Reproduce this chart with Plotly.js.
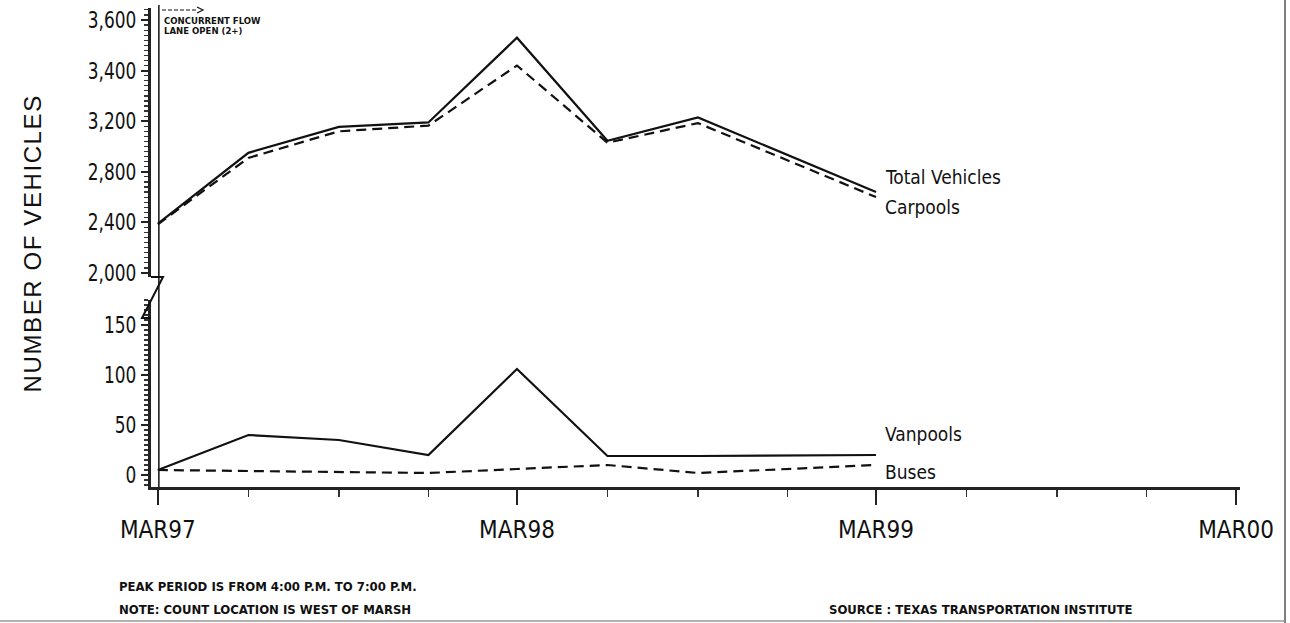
<!DOCTYPE html>
<html>
<head>
<meta charset="utf-8">
<script src="https://cdn.plot.ly/plotly-3.0.1.min.js"></script>
<style>
html,body{margin:0;padding:0;background:#fff;}
#chart{width:1290px;height:623px;}
</style>
</head>
<body>
<div id="chart"></div>
<script>
// ---- data ----
const dates = ['1997-03-01','1997-06-01','1997-09-01','1997-12-01','1998-03-01','1998-06-01','1998-09-01','1999-03-01'];
const totalVehicles = [2390, 2950, 3155, 3190, 3530, 3045, 3215, 2640];
const carpools      = [2385, 2910, 3120, 3165, 3420, 3030, 3185, 2600];
const vanpools      = [5, 40, 35, 20, 106, 19, 19, 20];
const buses         = [5, 4, 3, 2, 6, 10, 2, 10];

const xTickVals  = ['1997-03-01','1998-03-01','1999-03-01','2000-03-01'];
const xTickText  = ['MAR97','MAR98','MAR99','MAR00'];
const upperTickValues = [2000, 2400, 2800, 3200, 3400, 3600];   // labels as printed (evenly spaced on the original)
const upperTickText   = ['2,000','2,400','2,800','3,200','3,400','3,600'];
const lowerTickVals   = [0, 50, 100, 150];

// piecewise-linear scale of the original upper (broken) axis
function upperPos(v){
  const t = upperTickValues;
  if (v <= t[0]) return (v - t[0])/(t[1]-t[0]);
  for (let i=0;i<t.length-1;i++){
    if (v <= t[i+1]) return i + (v - t[i])/(t[i+1]-t[i]);
  }
  const n=t.length-1; return n + (v - t[n])/(t[n]-t[n-1]);
}

// ---- layout helpers (pixel geometry of the plot frame) ----
const L=151, R=1240, T=8, B=487;
const px = x => (x-L)/(R-L);
const py = y => (B-y)/(B-T);

const narrow = 'Liberation Sans Narrow, DejaVu Sans Condensed, Arial Narrow, sans-serif';
const sans = 'Liberation Sans, Arial, Helvetica, sans-serif';

const solid = {color:'#111', width:2.2};
const dashed = {color:'#111', width:2.2, dash:'10px,6px'};

const traces = [
  {x:dates, y:totalVehicles.map(upperPos), yaxis:'y2', mode:'lines', line:solid, name:'Total Vehicles', hoverinfo:'skip'},
  {x:dates, y:carpools.map(upperPos), yaxis:'y2', mode:'lines', line:dashed, name:'Carpools', hoverinfo:'skip'},
  {x:dates, y:vanpools, yaxis:'y', mode:'lines', line:solid, name:'Vanpools', hoverinfo:'skip'},
  {x:dates, y:buses, yaxis:'y', mode:'lines', line:dashed, name:'Buses', hoverinfo:'skip'}
];

const lowerTop = 300, upperBottom = 277;
const layout = {
  width:1290, height:623,
  margin:{l:L, r:1290-R, t:T, b:623-B},
  paper_bgcolor:'#fff', plot_bgcolor:'#fff',
  showlegend:false,
  xaxis:{
    type:'date', range:['1997-02-22','2000-03-05'],
    anchor:'y',
    tickvals:xTickVals, ticktext:xTickText,
    ticks:'outside', ticklen:15, tickwidth:2, tickcolor:'#222',
    ticklabelstandoff:4,
    minor:{dtick:'M3', tick0:'1997-03-01', ticks:'outside', ticklen:7, tickwidth:1.5, tickcolor:'#333', showgrid:false},
    showline:true, linewidth:3, linecolor:'#222',
    showgrid:false, zeroline:false,
    tickfont:{family:narrow, size:24, color:'#111'}
  },
  yaxis:{
    domain:[0, py(lowerTop)], range:[-12, 175],
    tickvals:lowerTickVals,
    ticks:'outside', ticklen:7, tickwidth:2, tickcolor:'#222',
    minor:{dtick:5, tick0:0, ticks:'outside', ticklen:4, tickwidth:1.2, tickcolor:'#333', showgrid:false},
    showline:true, linewidth:3, linecolor:'#222',
    showgrid:false, zeroline:false,
    ticklabelstandoff:0,
    tickfont:{family:narrow, size:23, color:'#111'}
  },
  yaxis2:{
    domain:[py(upperBottom), 1], range:[upperPos(2000)-0.079, upperPos(2000)+5.237],
    anchor:'x',
    tickvals:upperTickValues.map(upperPos), ticktext:upperTickText,
    ticks:'outside', ticklen:7, tickwidth:2, tickcolor:'#222',
    minor:{dtick:0.1, tick0:0, ticks:'outside', ticklen:4, tickwidth:1.2, tickcolor:'#333', showgrid:false},
    showline:true, linewidth:3, linecolor:'#222',
    showgrid:false, zeroline:false,
    ticklabelstandoff:0,
    tickfont:{family:narrow, size:23, color:'#111'}
  },
  shapes:[
    // concurrent-flow-lane event marker
    {type:'line', xref:'x', yref:'paper', x0:'1997-03-02', x1:'1997-03-02', y0:0, y1:py(5), line:{color:'#111', width:1.5}},
    {type:'line', xref:'paper', yref:'paper', x0:px(162), x1:px(198), y0:py(10), y1:py(10), line:{color:'#111', width:1.2, dash:'4px,2px'}},
    {type:'path', xref:'paper', yref:'paper', path:`M ${px(197)} ${py(7)} L ${px(203)} ${py(10)} L ${px(197)} ${py(13)}`, line:{color:'#111', width:1.2}},
    // axis break symbol
    {type:'path', xref:'paper', yref:'paper', path:`M ${px(151)} ${py(277)} L ${px(163)} ${py(277)} L ${px(142)} ${py(318)} L ${px(151)} ${py(318)}`, line:{color:'#111', width:2}},
    // page frame
    {type:'line', xref:'paper', yref:'paper', x0:px(1285), x1:px(1285), y0:py(0), y1:py(623), line:{color:'#555', width:1.5}},
    {type:'line', xref:'paper', yref:'paper', x0:px(0), x1:px(1285), y0:py(621), y1:py(621), line:{color:'#999', width:1.5}}
  ],
  annotations:[
    {text:'NUMBER OF VEHICLES', xref:'paper', yref:'paper', x:px(33), y:py(244), textangle:-90, showarrow:false, xanchor:'center', yanchor:'middle', font:{family:sans, size:24, color:'#111'}, name:'ytitle'},
    {text:'Total Vehicles', xref:'paper', yref:'paper', x:px(883), y:py(177), xanchor:'left', yanchor:'middle', showarrow:false, font:{family:narrow, size:19, color:'#111'}},
    {text:'Carpools', xref:'paper', yref:'paper', x:px(883), y:py(207), xanchor:'left', yanchor:'middle', showarrow:false, font:{family:narrow, size:19, color:'#111'}},
    {text:'Vanpools', xref:'paper', yref:'paper', x:px(883), y:py(434), xanchor:'left', yanchor:'middle', showarrow:false, font:{family:narrow, size:19, color:'#111'}},
    {text:'Buses', xref:'paper', yref:'paper', x:px(883), y:py(472), xanchor:'left', yanchor:'middle', showarrow:false, font:{family:narrow, size:19, color:'#111'}},
    {text:'CONCURRENT FLOW', xref:'paper', yref:'paper', x:px(162), y:py(20), xanchor:'left', yanchor:'middle', showarrow:false, font:{family:narrow, size:9.5, color:'#111', weight:700}},
    {text:'LANE OPEN (2+)', xref:'paper', yref:'paper', x:px(162), y:py(31), xanchor:'left', yanchor:'middle', showarrow:false, font:{family:narrow, size:9.5, color:'#111', weight:700}},
    {text:'PEAK PERIOD IS FROM 4:00 P.M. TO 7:00 P.M.', xref:'paper', yref:'paper', x:px(117), y:py(586), xanchor:'left', yanchor:'middle', showarrow:false, font:{family:narrow, size:13, color:'#111', weight:700}},
    {text:'NOTE: COUNT LOCATION IS WEST OF MARSH', xref:'paper', yref:'paper', x:px(117), y:py(609), xanchor:'left', yanchor:'middle', showarrow:false, font:{family:narrow, size:13, color:'#111', weight:700}},
    {text:'SOURCE : TEXAS TRANSPORTATION INSTITUTE', xref:'paper', yref:'paper', x:px(827), y:py(609), xanchor:'left', yanchor:'middle', showarrow:false, font:{family:narrow, size:13, color:'#111', weight:700}}
  ]
};

Plotly.newPlot('chart', traces, layout, {displayModeBar:false, staticPlot:true}).then(gd => {
  // narrow the y tick labels like the condensed type of the original
  gd.querySelectorAll('.ytick text, .y2tick text').forEach(t => {
    const w = t.getComputedTextLength();
    t.setAttribute('textLength', (w*0.82).toFixed(1));
    t.setAttribute('lengthAdjust', 'spacingAndGlyphs');
  });
  // letter-spaced axis title
  gd.querySelectorAll('.annotation-text').forEach(t => {
    if (t.textContent === 'NUMBER OF VEHICLES') t.style.letterSpacing = '1.6px';
  });
});
</script>
</body>
</html>
